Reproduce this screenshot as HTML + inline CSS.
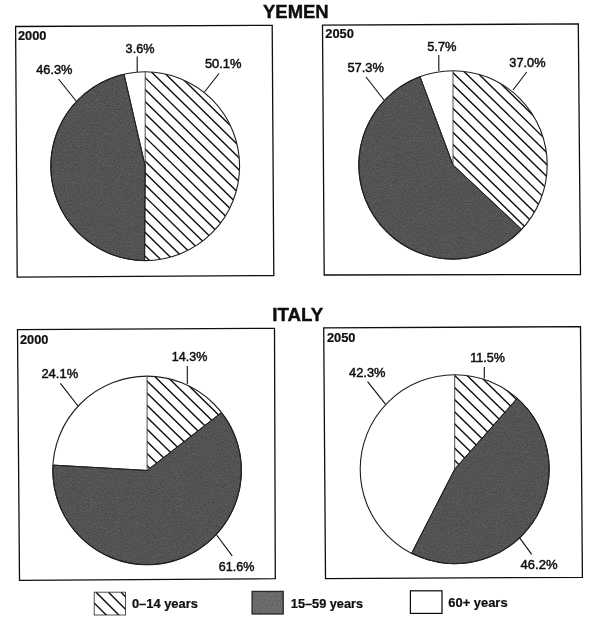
<!DOCTYPE html>
<html lang="en"><head><meta charset="utf-8"><title>Yemen and Italy population by age group, 2000 and 2050</title>
<style>html,body{margin:0;padding:0;background:#fff}svg{display:block}</style></head>
<body>
<svg width="600" height="627" viewBox="0 0 600 627">
<rect width="600" height="627" fill="#ffffff"/>
<defs>
<filter id="nz" x="0" y="0" width="100%" height="100%" color-interpolation-filters="sRGB"><feTurbulence type="fractalNoise" baseFrequency="0.75" numOctaves="2" seed="7" result="t"/><feColorMatrix in="t" type="matrix" values="0.2 0 0 0 0.225  0.2 0 0 0 0.225  0.2 0 0 0 0.225  0 0 0 0 1" result="g"/><feComposite in="g" in2="SourceAlpha" operator="in"/></filter>
<filter id="nz2" x="0" y="0" width="100%" height="100%" color-interpolation-filters="sRGB"><feTurbulence type="fractalNoise" baseFrequency="0.75" numOctaves="2" seed="11" result="t"/><feColorMatrix in="t" type="matrix" values="0.2 0 0 0 0.315  0.2 0 0 0 0.315  0.2 0 0 0 0.315  0 0 0 0 1" result="g"/><feComposite in="g" in2="SourceAlpha" operator="in"/></filter>
<clipPath id="c0"><path d="M145.20,166.20L145.20,71.80A94.40,94.40 0 1 1 144.61,260.60Z"/></clipPath>
<clipPath id="c1"><path d="M453.00,164.90L453.00,70.70A94.20,94.20 0 0 1 521.67,229.38Z"/></clipPath>
<clipPath id="c2"><path d="M147.10,470.45L147.10,376.15A94.30,94.30 0 0 1 221.49,412.50Z"/></clipPath>
<clipPath id="c3"><path d="M454.70,469.20L454.70,374.70A94.50,94.50 0 0 1 517.19,398.31Z"/></clipPath>
<clipPath id="cl"><rect x="94.2" y="592.2" width="31.3" height="22.8"/></clipPath>
</defs>
<polygon points="15.6,26.5 272.2,25.3 273.8,275.5 17.2,277.2" fill="none" stroke="#0e0e0e" stroke-width="1.3"/>
<polygon points="322.5,25.2 578.3,23.9 580.5,274.5 324.2,275.0" fill="none" stroke="#0e0e0e" stroke-width="1.3"/>
<polygon points="17.5,329.7 274.5,328.3 275.3,578.7 19.5,580.3" fill="none" stroke="#0e0e0e" stroke-width="1.3"/>
<polygon points="323.7,327.8 580.5,326.7 582.4,577.3 325.5,578.7" fill="none" stroke="#0e0e0e" stroke-width="1.3"/>
<circle cx="145.2" cy="166.2" r="94.4" fill="#fff"/>
<path d="M145.20,166.20L144.61,260.60A94.40,94.40 0 0 1 124.03,74.20Z" fill="#535353"/>
<path d="M145.20,166.20L144.61,260.60A94.40,94.40 0 0 1 124.03,74.20Z" fill="#535353" filter="url(#nz)"/>
<path d="M145.20,166.20L144.61,260.60A94.40,94.40 0 0 1 124.03,74.20Z" fill="none" stroke="#1c1c1c" stroke-width="0.9" stroke-linejoin="round"/>
<g clip-path="url(#c0)" stroke="#0e0e0e" stroke-width="1.4">
<line x1="140.00" y1="-34.40" x2="244.60" y2="68.11"/>
<line x1="140.00" y1="-22.50" x2="244.60" y2="80.01"/>
<line x1="140.00" y1="-10.60" x2="244.60" y2="91.91"/>
<line x1="140.00" y1="1.30" x2="244.60" y2="103.81"/>
<line x1="140.00" y1="13.20" x2="244.60" y2="115.71"/>
<line x1="140.00" y1="25.10" x2="244.60" y2="127.61"/>
<line x1="140.00" y1="37.00" x2="244.60" y2="139.51"/>
<line x1="140.00" y1="48.90" x2="244.60" y2="151.41"/>
<line x1="140.00" y1="60.80" x2="244.60" y2="163.31"/>
<line x1="140.00" y1="72.70" x2="244.60" y2="175.21"/>
<line x1="140.00" y1="84.60" x2="244.60" y2="187.11"/>
<line x1="140.00" y1="96.50" x2="244.60" y2="199.01"/>
<line x1="140.00" y1="108.40" x2="244.60" y2="210.91"/>
<line x1="140.00" y1="120.30" x2="244.60" y2="222.81"/>
<line x1="140.00" y1="132.20" x2="244.60" y2="234.71"/>
<line x1="140.00" y1="144.10" x2="244.60" y2="246.61"/>
<line x1="140.00" y1="156.00" x2="244.60" y2="258.51"/>
<line x1="140.00" y1="167.90" x2="244.60" y2="270.41"/>
<line x1="140.00" y1="179.80" x2="244.60" y2="282.31"/>
<line x1="140.00" y1="191.70" x2="244.60" y2="294.21"/>
<line x1="140.00" y1="203.60" x2="244.60" y2="306.11"/>
<line x1="140.00" y1="215.50" x2="244.60" y2="318.01"/>
<line x1="140.00" y1="227.40" x2="244.60" y2="329.91"/>
<line x1="140.00" y1="239.30" x2="244.60" y2="341.81"/>
<line x1="140.00" y1="251.20" x2="244.60" y2="353.71"/>
<line x1="140.00" y1="263.10" x2="244.60" y2="365.61"/>
</g>
<line x1="145.2" y1="166.2" x2="145.20" y2="71.80" stroke="#3a3a3a" stroke-width="0.9"/>
<line x1="145.2" y1="166.2" x2="144.61" y2="260.60" stroke="#222" stroke-width="1"/>
<line x1="145.2" y1="166.2" x2="124.03" y2="74.20" stroke="#222" stroke-width="1"/>
<circle cx="145.2" cy="166.2" r="94.4" fill="none" stroke="#202020" stroke-width="1.12"/>
<circle cx="453.0" cy="164.9" r="94.2" fill="#fff"/>
<path d="M453.00,164.90L521.67,229.38A94.20,94.20 0 1 1 419.98,76.68Z" fill="#535353"/>
<path d="M453.00,164.90L521.67,229.38A94.20,94.20 0 1 1 419.98,76.68Z" fill="#535353" filter="url(#nz)"/>
<path d="M453.00,164.90L521.67,229.38A94.20,94.20 0 1 1 419.98,76.68Z" fill="none" stroke="#1c1c1c" stroke-width="0.9" stroke-linejoin="round"/>
<g clip-path="url(#c1)" stroke="#0e0e0e" stroke-width="1.4">
<line x1="447.80" y1="-28.00" x2="552.20" y2="74.31"/>
<line x1="447.80" y1="-16.05" x2="552.20" y2="86.26"/>
<line x1="447.80" y1="-4.10" x2="552.20" y2="98.21"/>
<line x1="447.80" y1="7.85" x2="552.20" y2="110.16"/>
<line x1="447.80" y1="19.80" x2="552.20" y2="122.11"/>
<line x1="447.80" y1="31.75" x2="552.20" y2="134.06"/>
<line x1="447.80" y1="43.70" x2="552.20" y2="146.01"/>
<line x1="447.80" y1="55.65" x2="552.20" y2="157.96"/>
<line x1="447.80" y1="67.60" x2="552.20" y2="169.91"/>
<line x1="447.80" y1="79.55" x2="552.20" y2="181.86"/>
<line x1="447.80" y1="91.50" x2="552.20" y2="193.81"/>
<line x1="447.80" y1="103.45" x2="552.20" y2="205.76"/>
<line x1="447.80" y1="115.40" x2="552.20" y2="217.71"/>
<line x1="447.80" y1="127.35" x2="552.20" y2="229.66"/>
<line x1="447.80" y1="139.30" x2="552.20" y2="241.61"/>
<line x1="447.80" y1="151.25" x2="552.20" y2="253.56"/>
<line x1="447.80" y1="163.20" x2="552.20" y2="265.51"/>
<line x1="447.80" y1="175.15" x2="552.20" y2="277.46"/>
<line x1="447.80" y1="187.10" x2="552.20" y2="289.41"/>
<line x1="447.80" y1="199.05" x2="552.20" y2="301.36"/>
<line x1="447.80" y1="211.00" x2="552.20" y2="313.31"/>
<line x1="447.80" y1="222.95" x2="552.20" y2="325.26"/>
<line x1="447.80" y1="234.90" x2="552.20" y2="337.21"/>
<line x1="447.80" y1="246.85" x2="552.20" y2="349.16"/>
<line x1="447.80" y1="258.80" x2="552.20" y2="361.11"/>
</g>
<line x1="453.0" y1="164.9" x2="453.00" y2="70.70" stroke="#3a3a3a" stroke-width="0.9"/>
<line x1="453.0" y1="164.9" x2="521.67" y2="229.38" stroke="#222" stroke-width="1"/>
<line x1="453.0" y1="164.9" x2="419.98" y2="76.68" stroke="#222" stroke-width="1"/>
<circle cx="453.0" cy="164.9" r="94.2" fill="none" stroke="#202020" stroke-width="1.12"/>
<circle cx="147.1" cy="470.45" r="94.3" fill="#fff"/>
<path d="M147.10,470.45L221.49,412.50A94.30,94.30 0 1 1 52.95,465.12Z" fill="#535353"/>
<path d="M147.10,470.45L221.49,412.50A94.30,94.30 0 1 1 52.95,465.12Z" fill="#535353" filter="url(#nz)"/>
<path d="M147.10,470.45L221.49,412.50A94.30,94.30 0 1 1 52.95,465.12Z" fill="none" stroke="#1c1c1c" stroke-width="0.9" stroke-linejoin="round"/>
<g clip-path="url(#c2)" stroke="#0e0e0e" stroke-width="1.4">
<line x1="142.00" y1="279.46" x2="246.40" y2="381.77"/>
<line x1="142.00" y1="291.54" x2="246.40" y2="393.85"/>
<line x1="142.00" y1="303.62" x2="246.40" y2="405.93"/>
<line x1="142.00" y1="315.70" x2="246.40" y2="418.01"/>
<line x1="142.00" y1="327.78" x2="246.40" y2="430.09"/>
<line x1="142.00" y1="339.86" x2="246.40" y2="442.17"/>
<line x1="142.00" y1="351.94" x2="246.40" y2="454.25"/>
<line x1="142.00" y1="364.02" x2="246.40" y2="466.33"/>
<line x1="142.00" y1="376.10" x2="246.40" y2="478.41"/>
<line x1="142.00" y1="388.18" x2="246.40" y2="490.49"/>
<line x1="142.00" y1="400.26" x2="246.40" y2="502.57"/>
<line x1="142.00" y1="412.34" x2="246.40" y2="514.65"/>
<line x1="142.00" y1="424.42" x2="246.40" y2="526.73"/>
<line x1="142.00" y1="436.50" x2="246.40" y2="538.81"/>
<line x1="142.00" y1="448.58" x2="246.40" y2="550.89"/>
<line x1="142.00" y1="460.66" x2="246.40" y2="562.97"/>
<line x1="142.00" y1="472.74" x2="246.40" y2="575.05"/>
<line x1="142.00" y1="484.82" x2="246.40" y2="587.13"/>
<line x1="142.00" y1="496.90" x2="246.40" y2="599.21"/>
<line x1="142.00" y1="508.98" x2="246.40" y2="611.29"/>
<line x1="142.00" y1="521.06" x2="246.40" y2="623.37"/>
<line x1="142.00" y1="533.14" x2="246.40" y2="635.45"/>
<line x1="142.00" y1="545.22" x2="246.40" y2="647.53"/>
<line x1="142.00" y1="557.30" x2="246.40" y2="659.61"/>
<line x1="142.00" y1="569.38" x2="246.40" y2="671.69"/>
</g>
<line x1="147.1" y1="470.45" x2="147.10" y2="376.15" stroke="#3a3a3a" stroke-width="0.9"/>
<line x1="147.1" y1="470.45" x2="221.49" y2="412.50" stroke="#222" stroke-width="1"/>
<line x1="147.1" y1="470.45" x2="52.95" y2="465.12" stroke="#222" stroke-width="1"/>
<circle cx="147.1" cy="470.45" r="94.3" fill="none" stroke="#202020" stroke-width="1.12"/>
<circle cx="454.7" cy="469.2" r="94.5" fill="#fff"/>
<path d="M454.70,469.20L517.19,398.31A94.50,94.50 0 0 1 411.62,553.31Z" fill="#535353"/>
<path d="M454.70,469.20L517.19,398.31A94.50,94.50 0 0 1 411.62,553.31Z" fill="#535353" filter="url(#nz)"/>
<path d="M454.70,469.20L517.19,398.31A94.50,94.50 0 0 1 411.62,553.31Z" fill="none" stroke="#1c1c1c" stroke-width="0.9" stroke-linejoin="round"/>
<g clip-path="url(#c3)" stroke="#0e0e0e" stroke-width="1.4">
<line x1="449.70" y1="273.56" x2="554.20" y2="375.97"/>
<line x1="449.70" y1="285.69" x2="554.20" y2="388.10"/>
<line x1="449.70" y1="297.82" x2="554.20" y2="400.23"/>
<line x1="449.70" y1="309.95" x2="554.20" y2="412.36"/>
<line x1="449.70" y1="322.08" x2="554.20" y2="424.49"/>
<line x1="449.70" y1="334.21" x2="554.20" y2="436.62"/>
<line x1="449.70" y1="346.34" x2="554.20" y2="448.75"/>
<line x1="449.70" y1="358.47" x2="554.20" y2="460.88"/>
<line x1="449.70" y1="370.60" x2="554.20" y2="473.01"/>
<line x1="449.70" y1="382.73" x2="554.20" y2="485.14"/>
<line x1="449.70" y1="394.86" x2="554.20" y2="497.27"/>
<line x1="449.70" y1="406.99" x2="554.20" y2="509.40"/>
<line x1="449.70" y1="419.12" x2="554.20" y2="521.53"/>
<line x1="449.70" y1="431.25" x2="554.20" y2="533.66"/>
<line x1="449.70" y1="443.38" x2="554.20" y2="545.79"/>
<line x1="449.70" y1="455.51" x2="554.20" y2="557.92"/>
<line x1="449.70" y1="467.64" x2="554.20" y2="570.05"/>
<line x1="449.70" y1="479.77" x2="554.20" y2="582.18"/>
<line x1="449.70" y1="491.90" x2="554.20" y2="594.31"/>
<line x1="449.70" y1="504.03" x2="554.20" y2="606.44"/>
<line x1="449.70" y1="516.16" x2="554.20" y2="618.57"/>
<line x1="449.70" y1="528.29" x2="554.20" y2="630.70"/>
<line x1="449.70" y1="540.42" x2="554.20" y2="642.83"/>
<line x1="449.70" y1="552.55" x2="554.20" y2="654.96"/>
<line x1="449.70" y1="564.68" x2="554.20" y2="667.09"/>
</g>
<line x1="454.7" y1="469.2" x2="454.70" y2="374.70" stroke="#3a3a3a" stroke-width="0.9"/>
<line x1="454.7" y1="469.2" x2="517.19" y2="398.31" stroke="#222" stroke-width="1"/>
<line x1="454.7" y1="469.2" x2="411.62" y2="553.31" stroke="#222" stroke-width="1"/>
<circle cx="454.7" cy="469.2" r="94.5" fill="none" stroke="#202020" stroke-width="1.12"/>
<g stroke="#0e0e0e" stroke-width="1.1">
<line x1="137.2" y1="56.5" x2="137.2" y2="72.0"/>
<line x1="219.0" y1="73.5" x2="204.5" y2="92.0"/>
<line x1="58.5" y1="79.0" x2="76.5" y2="101.5"/>
<line x1="438.8" y1="55.0" x2="438.8" y2="71.0"/>
<line x1="366.0" y1="77.0" x2="384.0" y2="100.0"/>
<line x1="526.7" y1="72.0" x2="513.0" y2="90.0"/>
<line x1="187.3" y1="366.0" x2="187.3" y2="384.0"/>
<line x1="60.4" y1="383.4" x2="78.0" y2="406.0"/>
<line x1="216.6" y1="535.0" x2="232.2" y2="555.8"/>
<line x1="484.3" y1="367.0" x2="484.3" y2="378.5"/>
<line x1="367.6" y1="381.6" x2="385.6" y2="404.4"/>
<line x1="519.8" y1="538.2" x2="531.7" y2="554.4"/>
</g>
<g font-family="'Liberation Sans', sans-serif" fill="#0e0e0e">
<text x="125.6" y="52.5" font-size="12.1" stroke="#0e0e0e" stroke-width="0.45" textLength="28.9" lengthAdjust="spacingAndGlyphs">3.6%</text>
<text x="204.9" y="68.0" font-size="12.1" stroke="#0e0e0e" stroke-width="0.45" textLength="36.6" lengthAdjust="spacingAndGlyphs">50.1%</text>
<text x="36.2" y="73.9" font-size="12.1" stroke="#0e0e0e" stroke-width="0.45" textLength="36.3" lengthAdjust="spacingAndGlyphs">46.3%</text>
<text x="427.2" y="50.9" font-size="12.1" stroke="#0e0e0e" stroke-width="0.45" textLength="29.3" lengthAdjust="spacingAndGlyphs">5.7%</text>
<text x="347.4" y="72.3" font-size="12.1" stroke="#0e0e0e" stroke-width="0.45" textLength="36.5" lengthAdjust="spacingAndGlyphs">57.3%</text>
<text x="509.3" y="66.6" font-size="12.1" stroke="#0e0e0e" stroke-width="0.45" textLength="36.2" lengthAdjust="spacingAndGlyphs">37.0%</text>
<text x="171.8" y="361.2" font-size="12.1" stroke="#0e0e0e" stroke-width="0.45" textLength="35.5" lengthAdjust="spacingAndGlyphs">14.3%</text>
<text x="41.4" y="378.0" font-size="12.1" stroke="#0e0e0e" stroke-width="0.45" textLength="36.8" lengthAdjust="spacingAndGlyphs">24.1%</text>
<text x="218.8" y="570.6" font-size="12.1" stroke="#0e0e0e" stroke-width="0.45" textLength="35.7" lengthAdjust="spacingAndGlyphs">61.6%</text>
<text x="470.3" y="361.9" font-size="12.1" stroke="#0e0e0e" stroke-width="0.45" textLength="34.7" lengthAdjust="spacingAndGlyphs">11.5%</text>
<text x="349.1" y="376.9" font-size="12.1" stroke="#0e0e0e" stroke-width="0.45" textLength="36.4" lengthAdjust="spacingAndGlyphs">42.3%</text>
<text x="520.6" y="568.7" font-size="12.1" stroke="#0e0e0e" stroke-width="0.45" textLength="36.9" lengthAdjust="spacingAndGlyphs">46.2%</text>
<text x="17.9" y="39.5" font-size="12.2" font-weight="bold" stroke="#0e0e0e" stroke-width="0.2" textLength="28.5" lengthAdjust="spacingAndGlyphs">2000</text>
<text x="325.3" y="38.0" font-size="12.2" font-weight="bold" stroke="#0e0e0e" stroke-width="0.2" textLength="28.6" lengthAdjust="spacingAndGlyphs">2050</text>
<text x="20.0" y="343.9" font-size="12.2" font-weight="bold" stroke="#0e0e0e" stroke-width="0.2" textLength="28.4" lengthAdjust="spacingAndGlyphs">2000</text>
<text x="327.0" y="341.9" font-size="12.2" font-weight="bold" stroke="#0e0e0e" stroke-width="0.2" textLength="28.5" lengthAdjust="spacingAndGlyphs">2050</text>
<text x="263.0" y="17.6" font-size="17.7" font-weight="bold" stroke="#0e0e0e" stroke-width="0.4" textLength="65.7" lengthAdjust="spacingAndGlyphs">YEMEN</text>
<text x="272.2" y="321.0" font-size="17.7" font-weight="bold" stroke="#0e0e0e" stroke-width="0.4" textLength="51" lengthAdjust="spacingAndGlyphs">ITALY</text>
<text x="131.9" y="608.1" font-size="12.2" font-weight="bold" stroke="#0e0e0e" stroke-width="0.2" textLength="66.0" lengthAdjust="spacingAndGlyphs">0–14 years</text>
<text x="290.8" y="607.7" font-size="12.2" font-weight="bold" stroke="#0e0e0e" stroke-width="0.2" textLength="72.3" lengthAdjust="spacingAndGlyphs">15–59 years</text>
<text x="448.3" y="607.1" font-size="12.2" font-weight="bold" stroke="#0e0e0e" stroke-width="0.2" textLength="59.3" lengthAdjust="spacingAndGlyphs">60+ years</text>
</g>
<rect x="94.2" y="592.2" width="31.3" height="22.8" fill="#fff" stroke="#3c3c3c" stroke-width="0.9"/>
<g clip-path="url(#cl)" stroke="#0e0e0e" stroke-width="1.4">
<line x1="94.2" y1="603.0" x2="134.2" y2="643.0"/>
<line x1="96.0" y1="592.2" x2="136.0" y2="632.2"/>
<line x1="108.5" y1="592.2" x2="148.5" y2="632.2"/>
<line x1="121.0" y1="592.2" x2="161.0" y2="632.2"/>
</g>
<rect x="252.1" y="591.4" width="31.1" height="22.6" fill="#6a6a6a"/>
<rect x="252.1" y="591.4" width="31.1" height="22.6" fill="#6a6a6a" filter="url(#nz2)"/>
<rect x="252.1" y="591.4" width="31.1" height="22.6" fill="none" stroke="#262626" stroke-width="1.3"/>
<rect x="410.4" y="590.8" width="31.6" height="22.6" fill="#fff" stroke="#0e0e0e" stroke-width="1.25"/>
</svg>
</body></html>
